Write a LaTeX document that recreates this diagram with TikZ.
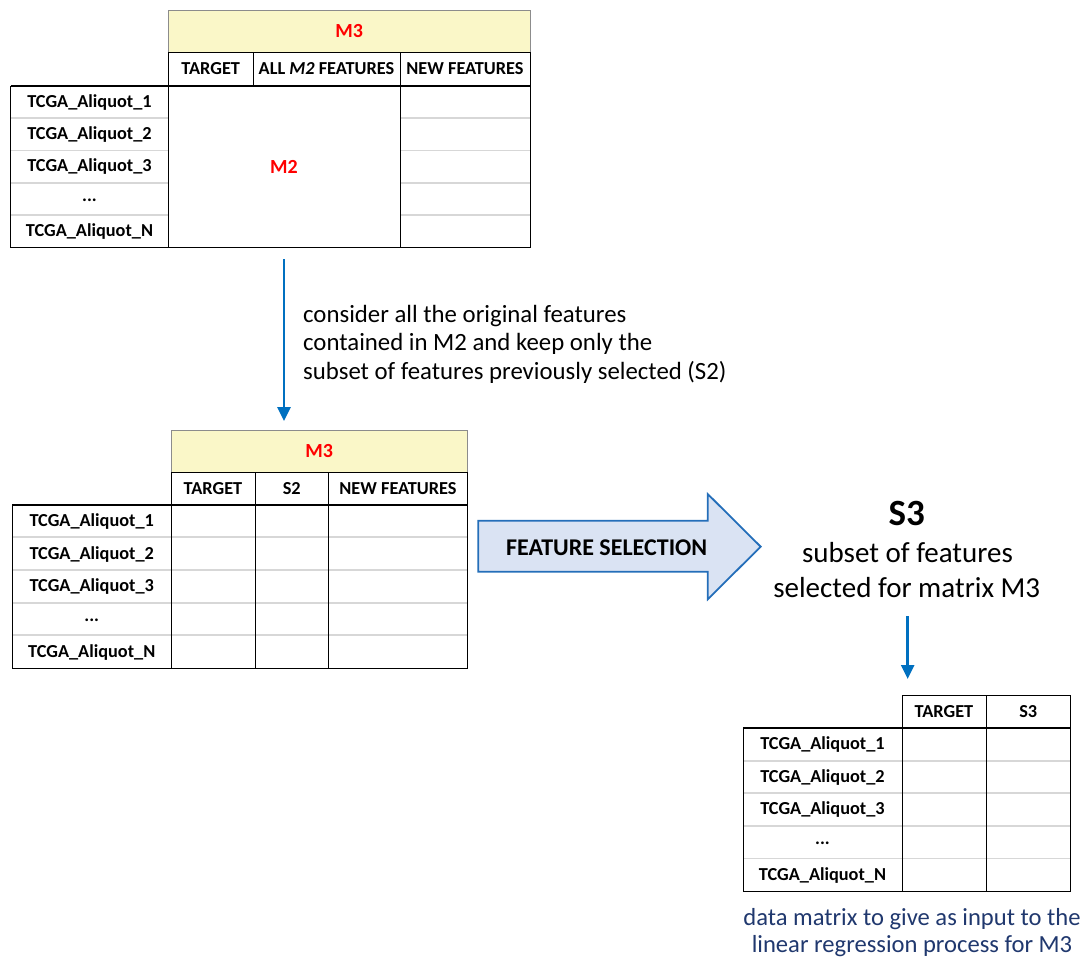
\documentclass[tikz,border=0pt]{standalone}
\usepackage{fontspec}
\setmainfont{Carlito}
\usetikzlibrary{arrows.meta}
\definecolor{hdryellow}{RGB}{250,247,200}
\definecolor{arrowblue}{RGB}{0,112,192}
\definecolor{fsfill}{RGB}{218,227,243}
\definecolor{fsborder}{RGB}{36,110,185}
\definecolor{navytext}{RGB}{32,56,110}
\definecolor{sepgray}{RGB}{215,215,215}
\definecolor{hdrgray}{RGB}{140,140,140}
\begin{document}
\begin{tikzpicture}[x=1pt,y=-1pt,
  celltxt/.style={inner sep=0pt, font=\fontsize{18.3}{21}\selectfont\bfseries},
  redtxt/.style={inner sep=0pt, text=red, font=\fontsize{20}{24}\selectfont\bfseries},
  hdrbox/.style={fill=hdryellow, draw=hdrgray, line width=0.8pt},
  gridline/.style={draw=black, line width=0.9pt},
  thickline/.style={draw=black, line width=2pt},
  sepline/.style={draw=sepgray, line width=1.8pt},
  bluearrow/.style={draw=arrowblue, line width=2.6pt, -{Triangle[width=13pt,length=14pt]}},
  bodytxt/.style={inner sep=0pt, font=\fontsize{24.8}{28.5}\selectfont},
]
\useasboundingbox (0,0) rectangle (1088,961);

% ================= TOP TABLE =================
\filldraw[hdrbox] (168.5,10) rectangle (530,52);
\node[redtxt] (tAm3) at (349.25,31) {M3};
\draw[gridline] (168.5,52) rectangle (530,86);
\draw[gridline] (253,52) -- (253,86);
\draw[gridline] (400,52) -- (400,86);
\node[celltxt] (tAh1) at (210.75,69) {TARGET};
\node[celltxt] (tAh2) at (326.5,69) {ALL \textit{M2} FEATURES};
\node[celltxt] (tAh3) at (465,69) {NEW FEATURES};
\foreach \yy in {118.2,150.4,182.6,214.8}{
  \draw[sepline] (11,\yy) -- (168,\yy);
  \draw[sepline] (400.5,\yy) -- (529.5,\yy);
}
\draw[gridline] (10.5,86) rectangle (530,247);
\draw[gridline] (168.5,86) -- (168.5,247);
\draw[gridline] (400,86) -- (400,247);
\draw[thickline] (10.5,86) -- (530,86);
\node[celltxt] (tAr1) at (89.5,102.6) {TCGA\_Aliquot\_1};
\node[celltxt] (tAr2) at (89.5,134.8) {TCGA\_Aliquot\_2};
\node[celltxt] (tAr3) at (89.5,167) {TCGA\_Aliquot\_3};
\node[celltxt] (tAr4) at (89.5,200) {...};
\node[celltxt] (tAr5) at (89.5,231.4) {TCGA\_Aliquot\_N};
\node[redtxt] (tAm2) at (284,167) {M2};

% ================= ARROW 1 + TEXT =================
\coordinate (a1s) at (284,259);
\coordinate (a1e) at (284,421);
\draw[bluearrow] (a1s) -- (a1e);
\node[bodytxt, anchor=west, align=left] (note1) at (303,344)
  {consider all the original features\\contained in M2 and keep only the\\subset of features previously selected (S2)};

% ================= MIDDLE TABLE =================
\filldraw[hdrbox] (171,430) rectangle (467.5,472);
\node[redtxt] (tBm3) at (319.25,451) {M3};
\draw[gridline] (171,472) rectangle (467.5,504.5);
\draw[gridline] (255,472) -- (255,504.5);
\draw[gridline] (328.5,472) -- (328.5,504.5);
\node[celltxt] (tBh1) at (213,488.5) {TARGET};
\node[celltxt] (tBh2) at (291.75,488.5) {S2};
\node[celltxt] (tBh3) at (398,488.5) {NEW FEATURES};
\foreach \yy in {537.2,569.9,602.6,635.3}{
  \draw[sepline] (13,\yy) -- (467,\yy);
}
\draw[gridline] (12.5,504.5) rectangle (467.5,668);
\draw[gridline] (171,504.5) -- (171,668);
\draw[gridline] (255,504.5) -- (255,668);
\draw[gridline] (328.5,504.5) -- (328.5,668);
\draw[thickline] (12.5,504.5) -- (467.5,504.5);
\node[celltxt] (tBr1) at (91.75,521.4) {TCGA\_Aliquot\_1};
\node[celltxt] (tBr2) at (91.75,554.1) {TCGA\_Aliquot\_2};
\node[celltxt] (tBr3) at (91.75,586.8) {TCGA\_Aliquot\_3};
\node[celltxt] (tBr4) at (91.75,620) {...};
\node[celltxt] (tBr5) at (91.75,652.2) {TCGA\_Aliquot\_N};

% ================= FEATURE SELECTION ARROW =================
\filldraw[fill=fsfill, draw=fsborder, line width=1.8pt, line join=miter]
  (478.3,520.7) -- (707.7,520.7) -- (707.7,494) -- (760.7,546.7)
  -- (707.7,599.3) -- (707.7,571.7) -- (478.3,571.7) -- cycle;
\node[inner sep=0pt, font=\fontsize{24}{28}\selectfont\bfseries] (fsel) at (606.7,548) {FEATURE SELECTION};

% ================= S3 BLOCK =================
\node[inner sep=0pt, font=\fontsize{37}{44}\selectfont\bfseries] (s3) at (906.7,513) {S3};
\node[inner sep=0pt, font=\fontsize{29}{35}\selectfont] (s3a) at (907.5,553) {subset of features};
\node[inner sep=0pt, font=\fontsize{29}{35}\selectfont] (s3b) at (906.7,588) {selected for matrix M3};
\coordinate (a2s) at (907.7,616);
\coordinate (a2e) at (907.7,679);
\draw[bluearrow] (a2s) -- (a2e);

% ================= BOTTOM TABLE =================
\draw[gridline] (902,695) rectangle (1070.5,728);
\draw[gridline] (986,695) -- (986,728);
\node[celltxt] (tCh1) at (944,711.5) {TARGET};
\node[celltxt] (tCh2) at (1028.25,711.5) {S3};
\foreach \yy in {760.6,793.2,825.8,858.4}{
  \draw[sepline] (743.5,\yy) -- (1070,\yy);
}
\draw[gridline] (743,728) rectangle (1070.5,891);
\draw[gridline] (902,728) -- (902,891);
\draw[gridline] (986,728) -- (986,891);
\draw[thickline] (743,728) -- (1070.5,728);
\node[celltxt] (tCr1) at (822.5,744.8) {TCGA\_Aliquot\_1};
\node[celltxt] (tCr2) at (822.5,777.4) {TCGA\_Aliquot\_2};
\node[celltxt] (tCr3) at (822.5,810) {TCGA\_Aliquot\_3};
\node[celltxt] (tCr4) at (822.5,843.1) {...};
\node[celltxt] (tCr5) at (822.5,875.2) {TCGA\_Aliquot\_N};

\node[inner sep=0pt, text=navytext, font=\fontsize{24.6}{29}\selectfont] (cap1) at (912,919) {data matrix to give as input to the};
\node[inner sep=0pt, text=navytext, font=\fontsize{24.6}{29}\selectfont] (cap2) at (912,946) {linear regression process for M3};
\end{tikzpicture}
\end{document}
